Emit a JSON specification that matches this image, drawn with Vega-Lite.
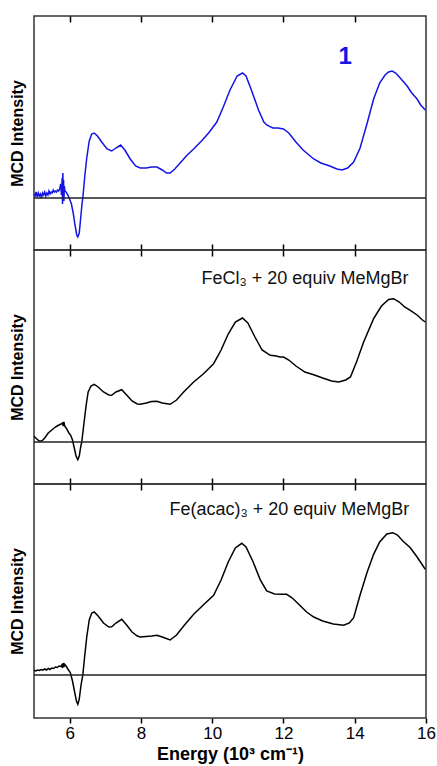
{
  "$schema": "https://vega.github.io/schema/vega-lite/v6.json",
  "padding": {"left": 8, "top": 14, "right": 5, "bottom": 5},
  "spacing": 0,
  "bounds": "flush",
  "config": {
    "font": "Liberation Sans",
    "view": {"stroke": "#333333", "strokeWidth": 1.5},
    "axisX": {"domain": false, "grid": false},
    "axisY": {"domain": false, "grid": false, "ticks": false, "labels": false}
  },
  "datasets": {
    "p1": [
      {"x":5.00,"y":4},{"x":5.03,"y":2},{"x":5.06,"y":6},{"x":5.09,"y":1},{"x":5.12,"y":5},{"x":5.15,"y":2},{"x":5.18,"y":4},{"x":5.21,"y":0},{"x":5.24,"y":5},{"x":5.27,"y":3},{"x":5.30,"y":6},{"x":5.33,"y":2},{"x":5.36,"y":5},{"x":5.39,"y":3},{"x":5.42,"y":7},{"x":5.45,"y":4},{"x":5.48,"y":6},{"x":5.51,"y":5},{"x":5.54,"y":8},{"x":5.57,"y":6},{"x":5.60,"y":7},{"x":5.63,"y":6},{"x":5.66,"y":8},{"x":5.69,"y":7},{"x":5.72,"y":9},{"x":5.75,"y":14},{"x":5.77,"y":3},{"x":5.79,"y":20},{"x":5.80,"y":-6},{"x":5.81,"y":25},{"x":5.82,"y":0},{"x":5.83,"y":18},{"x":5.84,"y":-3},{"x":5.85,"y":12},{"x":5.87,"y":7},{"x":5.90,"y":6},{"x":5.95,"y":3},{"x":6.00,"y":-1},{"x":6.05,"y":-6},{"x":6.10,"y":-15},{"x":6.15,"y":-27},{"x":6.20,"y":-37},{"x":6.23,"y":-39},{"x":6.27,"y":-35},{"x":6.31,"y":-20},{"x":6.35,"y":-5},{"x":6.37,"y":0},{"x":6.42,"y":20},{"x":6.48,"y":40},{"x":6.55,"y":57},{"x":6.62,"y":64},{"x":6.69,"y":65},{"x":6.78,"y":62},{"x":6.90,"y":56},{"x":7.05,"y":49},{"x":7.18,"y":47},{"x":7.30,"y":50},{"x":7.43,"y":53},{"x":7.55,"y":48},{"x":7.70,"y":39},{"x":7.85,"y":32},{"x":7.98,"y":30},{"x":8.15,"y":30},{"x":8.30,"y":31},{"x":8.45,"y":31},{"x":8.60,"y":28},{"x":8.72,"y":25},{"x":8.82,"y":25},{"x":8.95,"y":29},{"x":9.10,"y":35},{"x":9.30,"y":43},{"x":9.48,"y":49},{"x":9.70,"y":57},{"x":9.90,"y":65},{"x":10.13,"y":76},{"x":10.30,"y":90},{"x":10.50,"y":108},{"x":10.70,"y":122},{"x":10.85,"y":125},{"x":10.95,"y":122},{"x":11.10,"y":108},{"x":11.30,"y":88},{"x":11.45,"y":76},{"x":11.53,"y":73},{"x":11.70,"y":70},{"x":11.85,"y":70},{"x":12.00,"y":69},{"x":12.15,"y":65},{"x":12.35,"y":56},{"x":12.55,"y":48},{"x":12.75,"y":42},{"x":12.85,"y":39},{"x":13.05,"y":35},{"x":13.30,"y":32},{"x":13.50,"y":29},{"x":13.64,"y":28},{"x":13.80,"y":30},{"x":13.97,"y":36},{"x":14.15,"y":50},{"x":14.35,"y":75},{"x":14.53,"y":99},{"x":14.70,"y":115},{"x":14.85,"y":123},{"x":14.95,"y":126},{"x":15.05,"y":127},{"x":15.15,"y":125},{"x":15.25,"y":121},{"x":15.35,"y":117},{"x":15.47,"y":112},{"x":15.60,"y":105},{"x":15.75,"y":99},{"x":15.85,"y":93},{"x":15.98,"y":88}
    ],
    "p2": [
      {"x":5.00,"y":5.7},{"x":5.08,"y":3},{"x":5.15,"y":1},{"x":5.22,"y":1},{"x":5.30,"y":4},{"x":5.40,"y":9},{"x":5.50,"y":12},{"x":5.60,"y":15},{"x":5.70,"y":17},{"x":5.76,"y":18},{"x":5.80,"y":19},{"x":5.82,"y":16},{"x":5.84,"y":20},{"x":5.86,"y":16},{"x":5.92,"y":13},{"x":5.98,"y":9},{"x":6.03,"y":6.7},{"x":6.08,"y":2},{"x":6.13,"y":-6},{"x":6.18,"y":-14},{"x":6.23,"y":-17.7},{"x":6.27,"y":-14},{"x":6.31,"y":-5},{"x":6.34,"y":0},{"x":6.40,"y":18},{"x":6.46,"y":36},{"x":6.52,"y":50},{"x":6.60,"y":56},{"x":6.69,"y":57.7},{"x":6.80,"y":55},{"x":6.95,"y":50},{"x":7.10,"y":47},{"x":7.18,"y":46.7},{"x":7.30,"y":50},{"x":7.46,"y":52.3},{"x":7.60,"y":47},{"x":7.75,"y":41},{"x":7.90,"y":38},{"x":7.98,"y":37.7},{"x":8.15,"y":39},{"x":8.30,"y":40.5},{"x":8.45,"y":40.7},{"x":8.60,"y":39},{"x":8.82,"y":37.7},{"x":9.00,"y":42},{"x":9.20,"y":50},{"x":9.48,"y":60},{"x":9.75,"y":68},{"x":10.04,"y":78.3},{"x":10.25,"y":92},{"x":10.45,"y":108},{"x":10.65,"y":120},{"x":10.85,"y":124},{"x":11.00,"y":119},{"x":11.20,"y":105},{"x":11.40,"y":92},{"x":11.63,"y":86.7},{"x":11.80,"y":86},{"x":11.90,"y":85},{"x":12.00,"y":85},{"x":12.15,"y":82},{"x":12.35,"y":76},{"x":12.60,"y":70},{"x":12.85,"y":67.3},{"x":13.10,"y":64},{"x":13.35,"y":61},{"x":13.55,"y":60},{"x":13.75,"y":62},{"x":13.88,"y":65},{"x":14.05,"y":80},{"x":14.25,"y":100},{"x":14.53,"y":123.3},{"x":14.75,"y":136},{"x":14.95,"y":142.5},{"x":15.09,"y":143.3},{"x":15.25,"y":140},{"x":15.40,"y":135},{"x":15.56,"y":131.7},{"x":15.75,"y":127},{"x":15.90,"y":122},{"x":15.98,"y":120}
    ],
    "p3": [
      {"x":5.00,"y":4.7},{"x":5.05,"y":4},{"x":5.10,"y":5},{"x":5.15,"y":4.5},{"x":5.20,"y":5.5},{"x":5.25,"y":4.8},{"x":5.30,"y":6},{"x":5.35,"y":5},{"x":5.40,"y":6.5},{"x":5.45,"y":5.5},{"x":5.50,"y":7},{"x":5.55,"y":6.5},{"x":5.60,"y":8},{"x":5.65,"y":7.5},{"x":5.70,"y":9},{"x":5.75,"y":8.5},{"x":5.78,"y":10},{"x":5.80,"y":7},{"x":5.82,"y":12},{"x":5.84,"y":8},{"x":5.86,"y":10.7},{"x":5.90,"y":9},{"x":5.95,"y":6},{"x":6.02,"y":2.3},{"x":6.08,"y":-6},{"x":6.14,"y":-17},{"x":6.19,"y":-26},{"x":6.23,"y":-29.3},{"x":6.27,"y":-24},{"x":6.32,"y":-10},{"x":6.37,"y":0},{"x":6.42,"y":18},{"x":6.48,"y":38},{"x":6.55,"y":55},{"x":6.62,"y":62},{"x":6.69,"y":63},{"x":6.80,"y":59},{"x":6.95,"y":52},{"x":7.10,"y":48},{"x":7.18,"y":48.3},{"x":7.30,"y":52},{"x":7.46,"y":55.7},{"x":7.60,"y":50},{"x":7.75,"y":43},{"x":7.90,"y":39},{"x":7.98,"y":38},{"x":8.15,"y":38.5},{"x":8.30,"y":39},{"x":8.45,"y":39.7},{"x":8.60,"y":38},{"x":8.82,"y":35},{"x":9.00,"y":40},{"x":9.20,"y":49},{"x":9.48,"y":60.7},{"x":9.75,"y":70},{"x":10.04,"y":79.7},{"x":10.25,"y":95},{"x":10.45,"y":113},{"x":10.65,"y":127},{"x":10.83,"y":131.7},{"x":10.95,"y":128},{"x":11.15,"y":113},{"x":11.35,"y":95},{"x":11.53,"y":84},{"x":11.75,"y":81},{"x":11.95,"y":80.7},{"x":12.09,"y":80.7},{"x":12.25,"y":77},{"x":12.45,"y":70},{"x":12.65,"y":63},{"x":12.85,"y":58},{"x":13.10,"y":54},{"x":13.40,"y":51},{"x":13.69,"y":49.7},{"x":13.85,"y":52},{"x":13.97,"y":57.3},{"x":14.15,"y":80},{"x":14.35,"y":103},{"x":14.53,"y":120.7},{"x":14.70,"y":133},{"x":14.90,"y":141},{"x":15.07,"y":142.3},{"x":15.20,"y":140},{"x":15.35,"y":134},{"x":15.56,"y":127.3},{"x":15.75,"y":118},{"x":15.90,"y":110},{"x":15.98,"y":105.7}
    ],
    "labels": [
      {"panel":1,"x":13.73,"y":141,"text":"1"},
      {"panel":2,"x":9.7,"y":163,"text":"FeCl₃ + 20 equiv MeMgBr"},
      {"panel":3,"x":8.8,"y":165,"text":"Fe(acac)₃ + 20 equiv MeMgBr"}
    ]
  },
  "vconcat": [
    {
      "width": 392, "height": 234,
      "resolve": {"axis": {"x": "independent"}},
      "layer": [
        {
          "data": {"name": "p1"},
          "mark": {"type": "line", "color": "#1414e6", "strokeWidth": 1.5},
          "encoding": {
            "x": {"field": "x", "type": "quantitative", "scale": {"domain": [5, 16], "nice": false},
                  "axis": {"orient": "bottom", "labels": false, "title": null, "tickSize": 6, "offset": -6, "tickColor": "black", "tickWidth": 1.5, "values": [6,8,10,12,14]}},
            "y": {"field": "y", "type": "quantitative", "scale": {"domain": [-52, 182], "nice": false, "zero": false},
                  "axis": {"title": "MCD Intensity", "titleFontSize": 16, "titleFontWeight": "bold", "titlePadding": 9, "titleColor": "#000"}}
          }
        },
        {
          "data": {"values": [{"z": 0}]},
          "mark": {"type": "rule", "color": "#222222", "strokeWidth": 1.3},
          "encoding": {"y": {"field": "z", "type": "quantitative"}}
        },
        {
          "data": {"name": "labels"},
          "transform": [{"filter": "datum.panel == 1"}],
          "mark": {"type": "text", "color": "#1414e6", "fontSize": 24, "fontWeight": "bold", "align": "center", "baseline": "middle"},
          "encoding": {
            "x": {"field": "x", "type": "quantitative", "axis": {"orient": "top", "labels": false, "title": null, "tickSize": 6, "offset": -6, "tickColor": "black", "tickWidth": 1.5, "values": [6,8,10,12,14]}},
            "y": {"field": "y", "type": "quantitative"},
            "text": {"field": "text"}
          }
        }
      ]
    },
    {
      "width": 392, "height": 234,
      "resolve": {"axis": {"x": "independent"}},
      "layer": [
        {
          "data": {"name": "p2"},
          "mark": {"type": "line", "color": "#000000", "strokeWidth": 1.5},
          "encoding": {
            "x": {"field": "x", "type": "quantitative", "scale": {"domain": [5, 16], "nice": false},
                  "axis": {"orient": "bottom", "labels": false, "title": null, "tickSize": 6, "offset": -6, "tickColor": "black", "tickWidth": 1.5, "values": [6,8,10,12,14]}},
            "y": {"field": "y", "type": "quantitative", "scale": {"domain": [-42, 192], "nice": false, "zero": false},
                  "axis": {"title": "MCD Intensity", "titleFontSize": 16, "titleFontWeight": "bold", "titlePadding": 9, "titleColor": "#000"}}
          }
        },
        {
          "data": {"values": [{"z": 0}]},
          "mark": {"type": "rule", "color": "#222222", "strokeWidth": 1.3},
          "encoding": {"y": {"field": "z", "type": "quantitative"}}
        },
        {
          "data": {"name": "labels"},
          "transform": [{"filter": "datum.panel == 2"}],
          "mark": {"type": "text", "color": "#111111", "fontSize": 18, "align": "left", "baseline": "middle"},
          "encoding": {
            "x": {"field": "x", "type": "quantitative", "axis": {"orient": "top", "labels": false, "title": null, "tickSize": 6, "offset": -6, "tickColor": "black", "tickWidth": 1.5, "values": [6,8,10,12,14]}},
            "y": {"field": "y", "type": "quantitative"},
            "text": {"field": "text"}
          }
        }
      ]
    },
    {
      "width": 392, "height": 234,
      "resolve": {"axis": {"x": "independent"}},
      "layer": [
        {
          "data": {"name": "p3"},
          "mark": {"type": "line", "color": "#000000", "strokeWidth": 1.5},
          "encoding": {
            "x": {"field": "x", "type": "quantitative", "scale": {"domain": [5, 16], "nice": false},
                  "axis": {"orient": "bottom", "title": "Energy (10³ cm⁻¹)", "titleFontSize": 18, "titleFontWeight": "bold", "titleColor": "#000", "titlePadding": 4,
                           "labelFontSize": 17, "labelColor": "#000", "labelPadding": 2, "tickSize": 5, "tickColor": "black", "tickWidth": 1.5, "values": [6,8,10,12,14,16], "labelFlush": false}},
            "y": {"field": "y", "type": "quantitative", "scale": {"domain": [-43, 191], "nice": false, "zero": false},
                  "axis": {"title": "MCD Intensity", "titleFontSize": 16, "titleFontWeight": "bold", "titlePadding": 9, "titleColor": "#000"}}
          }
        },
        {
          "data": {"values": [{"z": 0}]},
          "mark": {"type": "rule", "color": "#222222", "strokeWidth": 1.3},
          "encoding": {"y": {"field": "z", "type": "quantitative"}}
        },
        {
          "data": {"name": "labels"},
          "transform": [{"filter": "datum.panel == 3"}],
          "mark": {"type": "text", "color": "#111111", "fontSize": 18, "align": "left", "baseline": "middle"},
          "encoding": {
            "x": {"field": "x", "type": "quantitative", "axis": {"orient": "top", "labels": false, "title": null, "tickSize": 6, "offset": -6, "tickColor": "black", "tickWidth": 1.5, "values": [6,8,10,12,14]}},
            "y": {"field": "y", "type": "quantitative"},
            "text": {"field": "text"}
          }
        }
      ]
    }
  ]
}
